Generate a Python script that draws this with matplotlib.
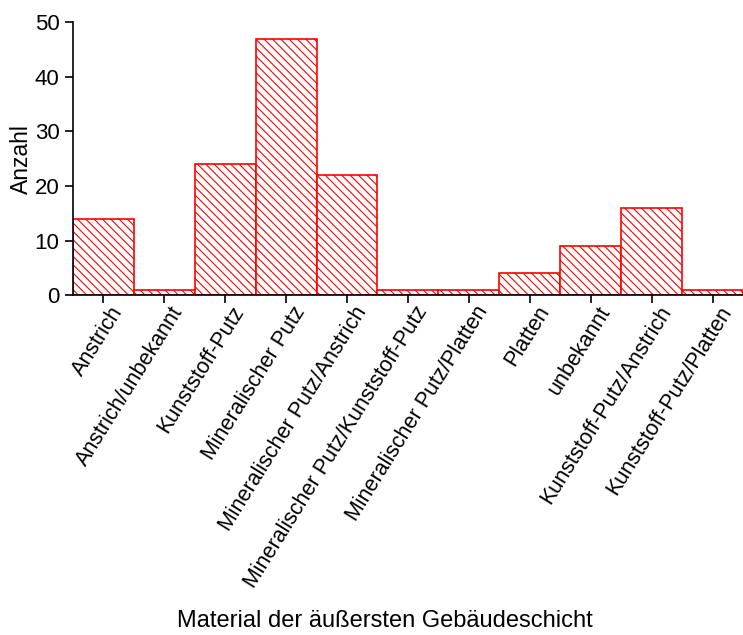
import matplotlib
matplotlib.use("Agg")
import matplotlib.pyplot as plt
import matplotlib.transforms as mtransforms
import numpy as np

plt.rcParams['font.family'] = ['Liberation Sans', 'DejaVu Sans']
plt.rcParams['hatch.linewidth'] = 0.8
plt.rcParams['hatch.color'] = 'red'

categories = ["Anstrich", "Anstrich/unbekannt", "Kunststoff-Putz", "Mineralischer Putz",
              "Mineralischer Putz/Anstrich", "Mineralischer Putz/Kunststoff-Putz",
              "Mineralischer Putz/Platten", "Platten", "unbekannt",
              "Kunststoff-Putz/Anstrich", "Kunststoff-Putz/Platten"]
counts = [14, 1, 24, 47, 22, 1, 1, 4, 9, 16, 1]

fig = plt.figure(figsize=(7.43, 6.35), dpi=100)
ax = fig.add_axes([0.098, 0.535, 0.902, 0.43])

x = np.arange(len(categories))
ax.bar(x, counts, width=1.0, facecolor='white', edgecolor='red', linewidth=1.2, hatch='\\\\\\\\')

ax.set_xlim(-0.5, len(categories) - 0.5)
ax.set_ylim(0, 50)
ax.set_yticks(range(0, 51, 10))
ax.set_xticks(x)
ax.set_xticklabels(categories, rotation=58, ha='right', rotation_mode='anchor', fontsize=15.5)
ax.tick_params(axis='y', labelsize=16, length=6, width=1.2)
ax.tick_params(axis='x', length=6, width=1.2, pad=2)
# nudge rotated labels so their ends sit right of the ticks
shift = mtransforms.ScaledTranslation(6 / 100, 4 / 100, fig.dpi_scale_trans)
for lab in ax.get_xticklabels():
    lab.set_transform(lab.get_transform() + shift)
ax.spines['top'].set_visible(False)
ax.spines['right'].set_visible(False)
ax.spines['left'].set_linewidth(1.2)
ax.spines['bottom'].set_linewidth(1.2)
ax.set_ylabel("Anzahl", fontsize=16.5, labelpad=1)
fig.text(0.518, 0.012, "Material der äußersten Gebäudeschicht", ha='center', fontsize=17)

fig.savefig("out.png", dpi=100)
